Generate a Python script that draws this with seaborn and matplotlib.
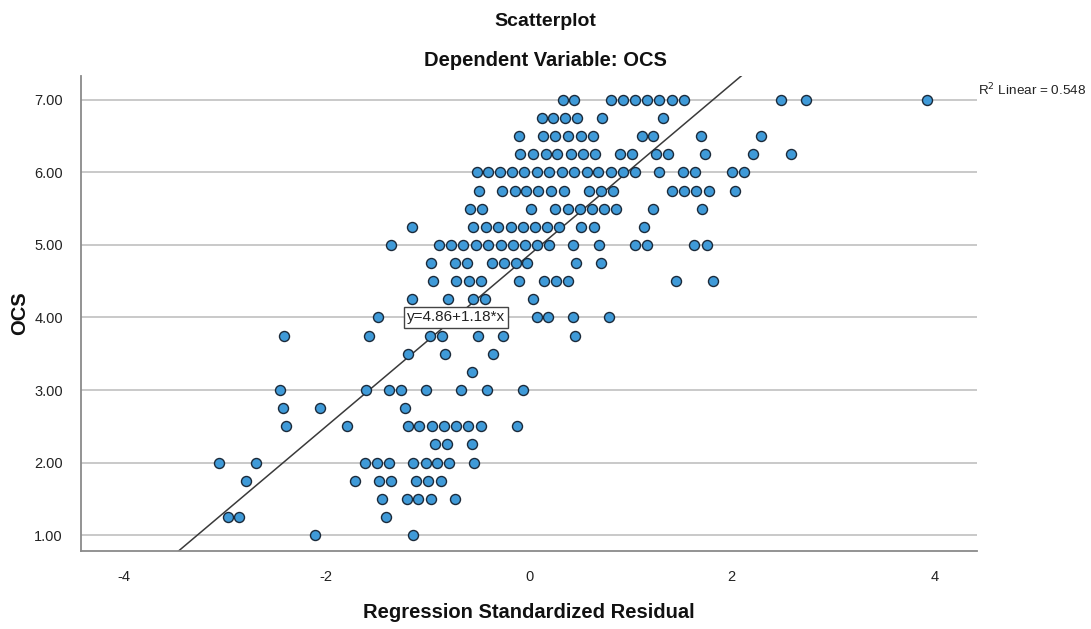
import numpy as np
import pandas as pd
import matplotlib
matplotlib.use("Agg")
import matplotlib.pyplot as plt
import seaborn as sns

# Regression standardized residuals, grouped by OCS score
res_700 = [0.333, 0.447, 0.807, 0.925, 1.046, 1.168, 1.286, 1.41, 1.53, 2.49, 2.73, 3.93]
res_675 = [0.125, 0.24, 0.355, 0.471, 0.724, 1.32]
res_650 = [-0.099, 0.136, 0.257, 0.388, 0.51, 0.629, 1.113, 1.227, 1.698, 2.29]
res_625 = [-0.084, 0.042, 0.163, 0.281, 0.415, 0.536, 0.656, 0.898, 1.017, 1.249,
           1.372, 1.737, 2.21, 2.58]
res_600 = [-0.516, -0.402, -0.286, -0.168, -0.049, 0.074, 0.197, 0.321, 0.444, 0.568,
           0.684, 0.806, 0.928, 1.046, 1.278, 1.523, 1.639, 2.0, 2.12]
res_575 = [-0.489, -0.262, -0.143, -0.025, 0.092, 0.217, 0.341, 0.592, 0.711, 0.826,
           1.407, 1.53, 1.649, 1.777, 2.033]
res_550 = [-0.587, -0.467, 0.02, 0.257, 0.38, 0.503, 0.622, 0.74, 0.859, 1.219, 1.705]
res_525 = [-1.15, -0.553, -0.425, -0.304, -0.181, -0.059, 0.064, 0.178, 0.296, 0.513,
           0.642, 1.132]
res_500 = [-1.357, -0.884, -0.765, -0.647, -0.523, -0.402, -0.279, -0.158, -0.039, 0.079,
           0.197, 0.434, 0.686, 1.041, 1.16, 1.629, 1.752]
res_475 = [-0.970, -0.735, -0.615, -0.368, -0.25, -0.133, -0.02, 0.464, 0.708]
res_450 = [-0.948, -0.72, -0.592, -0.472, -0.1, 0.145, 0.262, 0.38, 1.451, 1.813]
res_425 = [-1.152, -0.795, -0.556, -0.439, 0.042]
res_400 = [-1.488, 0.076, 0.183, 0.431, 0.793]
res_375 = [-2.419, -1.577, -0.977, -0.862, -0.5, -0.26, 0.454]
res_350 = [-1.192, -0.829, -0.352]
res_325 = [-0.566]
res_300 = [-2.458, -1.612, -1.379, -1.264, -1.017, -0.671, -0.418, -0.056]
res_275 = [-2.426, -2.063, -1.224]
res_250 = [-2.399, -1.8, -1.197, -1.083, -0.96, -0.839, -0.721, -0.6, -0.477, -0.122]
res_225 = [-0.928, -0.812, -0.566]
res_200 = [-3.057, -2.695, -1.619, -1.498, -1.38, -1.142, -1.017, -0.906, -0.786, -0.543]
res_175 = [-2.794, -1.718, -1.478, -1.365, -1.115, -0.994, -0.869]
res_150 = [-1.454, -1.207, -1.093, -0.97, -0.726]
res_125 = [-2.974, -2.86, -1.412]
res_100 = [-2.113, -1.148]

ocs_levels = [7.00, 6.75, 6.50, 6.25, 6.00, 5.75, 5.50, 5.25, 5.00, 4.75, 4.50, 4.25,
              4.00, 3.75, 3.50, 3.25, 3.00, 2.75, 2.50, 2.25, 2.00, 1.75, 1.50, 1.25, 1.00]
residual_groups = [res_700, res_675, res_650, res_625, res_600, res_575, res_550, res_525,
                   res_500, res_475, res_450, res_425, res_400, res_375, res_350, res_325,
                   res_300, res_275, res_250, res_225, res_200, res_175, res_150, res_125,
                   res_100]

# Fit line reported for the regression
intercept = 4.86
slope = 1.18
r_squared = 0.548

y_ticks = [1, 2, 3, 4, 5, 6, 7]
x_ticks = [-4, -2, 0, 2, 4]

df = pd.DataFrame(
    [(r, lvl) for lvl, grp in zip(ocs_levels, residual_groups) for r in grp],
    columns=["Regression Standardized Residual", "OCS"],
)

sns.set_theme(style="white")
plt.rcParams["font.family"] = ["Liberation Sans", "DejaVu Sans"]

fig = plt.figure(figsize=(10.91, 6.29), dpi=100)
ax = fig.add_axes([81 / 1091, 1 - 551 / 629, (977 - 81) / 1091, (551 - 76) / 629])

ax.set_xlim(-4.42, 4.42)
ax.set_ylim(0.78, 7.33)

# horizontal reference grid
for yv in y_ticks:
    ax.axhline(yv, color="#c9c9c9", lw=1.4, zorder=0)

# fit line
xs = np.array([-4.42, 4.42])
ax.plot(xs, intercept + slope * xs, color="#3a3a3a", lw=1.1, zorder=1)

sns.scatterplot(
    data=df, x="Regression Standardized Residual", y="OCS", ax=ax,
    s=52, color="#3f9ad8", edgecolor="#1b2a3a", linewidth=1.0, zorder=3, legend=False,
)

ax.set_xticks(x_ticks)
ax.set_xticklabels([str(t) for t in x_ticks])
ax.set_yticks(y_ticks)
ax.set_yticklabels([f"{t:.2f}" for t in y_ticks])
ax.tick_params(axis="both", length=0, labelsize=10.5, colors="#222222")
ax.tick_params(axis="y", pad=13)
ax.tick_params(axis="x", pad=14)

for side in ["top", "right"]:
    ax.spines[side].set_visible(False)
for side in ["left", "bottom"]:
    ax.spines[side].set_color("#8a8a8a")
    ax.spines[side].set_linewidth(1.3)

ax.set_xlabel("Regression Standardized Residual", fontsize=14.5, fontweight="bold",
              color="#111111")
ax.set_ylabel("OCS", fontsize=14.5, fontweight="bold", color="#111111")
ax.xaxis.label.set_va("center")
ax.yaxis.label.set_va("center")
ax.xaxis.set_label_coords(0.5, (551 - 612) / 475)
ax.yaxis.set_label_coords((20 - 81) / 896, 0.5)

# equation label on the fit line
ax.text(-0.72, 4.0, f"y={intercept:.2f}+{slope:.2f}*x", fontsize=11, ha="center",
        va="center", color="#222222", zorder=5,
        bbox=dict(boxstyle="square,pad=0.22", facecolor="white", edgecolor="#444444", lw=1))

fig.text(978 / 1091, 1 - 90 / 629, f"R$^2$ Linear = {r_squared:.3f}", fontsize=9.7,
         ha="left", va="center", color="#222222")

fig.text(0.5, 1 - 21 / 629, "Scatterplot", fontsize=14, fontweight="bold",
         ha="center", va="center", color="#111111")
fig.text(0.5, 1 - 61 / 629, "Dependent Variable: OCS", fontsize=14.5, fontweight="bold",
         ha="center", va="center", color="#111111")

fig.savefig("out.png", dpi=100)
